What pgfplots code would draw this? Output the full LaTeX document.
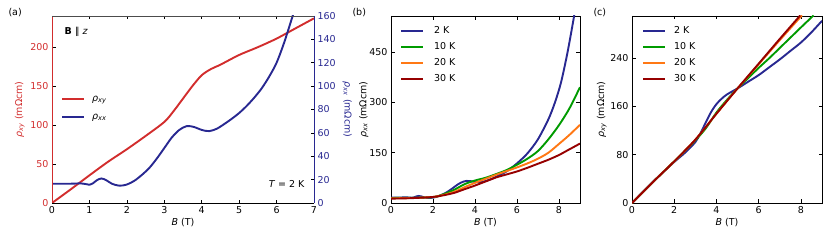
\documentclass[border=0pt]{standalone}
\usepackage{pgfplots}
\pgfplotsset{compat=1.18}
\usepackage{fontspec}
\setmainfont{DejaVu Sans}
\definecolor{cred}{RGB}{210,45,45}
\definecolor{cblue}{RGB}{40,40,145}
\definecolor{cgreen}{RGB}{0,155,0}
\definecolor{corange}{RGB}{255,120,20}
\definecolor{cdred}{RGB}{150,0,0}
\newcommand{\rxy}{\textit{ρ}\textsubscript{\textit{xy}}}
\newcommand{\rxx}{\textit{ρ}\textsubscript{\textit{xx}}}
\pgfplotsset{
  every axis/.append style={
    scale only axis,
    font=\fontsize{9.5}{11}\selectfont,
    tick align=inside,
    major tick length=3.5pt,
    tick style={line width=0.6pt, black},
    axis line style={line width=0.7pt},
    /pgf/number format/assume math mode=true,
    xlabel={\textit{B} (T)},
    xlabel style={yshift=2pt},
  },
  dat/.style={line width=1.9pt, smooth, no markers},
  leg/.style={legend style={draw=none, fill=none, inner sep=0pt, column sep=8pt, row sep=4pt,
     nodes={inner sep=0pt, text height=7pt, text depth=2pt, anchor=west},
     font=\fontsize{9.5}{11}\selectfont},
     legend cell align=left,
     legend image code/.code={\draw[##1] (0pt,0pt) -- (22pt,0pt);}},
}
\begin{document}
\begin{tikzpicture}
\path[use as bounding box] (0,0) rectangle (830pt,241pt);

% ---------------- panel (a) ----------------
\begin{axis}[name=A1, at={(52pt,38pt)}, anchor=south west, width=262pt, height=187pt,
  xmin=0, xmax=7, ymin=0, ymax=240,
  xtick={0,...,7}, ytick={0,50,100,150,200},
  xtick pos=both, xticklabel pos=bottom, ytick pos=left,
  yticklabel style={text=cred}, ylabel={\rxy{} (mΩcm)}, ylabel style={text=cred, yshift=-1pt},
  axis line style={draw=none}]
\addplot[dat, cred] coordinates {
(0,0) (0.5,17.5) (1,35.5) (1.5,53) (2,69) (2.5,86) (3,104) (3.25,118) (3.5,134) (3.75,150) (4,164) (4.25,172) (4.5,177.5) (5,190) (5.5,200) (6,211) (6.5,224) (7,237)};
\end{axis}
\begin{axis}[at={(52pt,38pt)}, anchor=south west, width=262pt, height=187pt,
  xmin=0, xmax=7, ymin=0, ymax=160,
  hide x axis, axis y line*=right, ytick={0,20,...,160},
  yticklabel style={text=cblue}, y axis line style={draw=none},
  ylabel={\rxx{} (mΩcm)}, ylabel style={text=cblue, rotate=180, yshift=0pt},
  leg, legend style={at={(rel axis cs:0,1)}, anchor=north west, xshift=9pt, yshift=-78pt, row sep=9pt, column sep=7pt}]
\addlegendimage{cred, line width=1.9pt}
\addlegendentry{\rxy}
\addplot[dat, cblue] coordinates {
(0,16.5) (0.5,16.5) (0.75,16.8) (0.9,16.2) (1.0,15.6) (1.1,17) (1.2,19.5) (1.32,21) (1.45,19.5) (1.6,16.5) (1.8,14.8) (2.0,15.8) (2.2,19) (2.4,24) (2.6,30) (2.8,38) (3.0,47) (3.2,56) (3.4,62.5) (3.6,65.8) (3.8,65) (4.0,62.5) (4.2,61.5) (4.4,63.5) (4.6,67.5) (4.8,72) (5.0,77) (5.2,83) (5.4,90) (5.6,98) (5.8,108) (6.0,120) (6.2,137) (6.4,157) (6.45,162)};
\addlegendentry{\rxx}
\node[anchor=west] at (rel axis cs:0,1) [xshift=9pt, yshift=-16pt] {\textbf{B} ∥ \textit{z}};
\node[anchor=east] at (rel axis cs:1,0) [xshift=-6pt, yshift=19pt] {\textit{T} = 2 K};
\end{axis}
\draw[cred, line width=0.7pt] (A1.south west) -- (A1.north west);
\draw[cblue, line width=0.7pt] (A1.south east) -- (A1.north east);
\draw[black!70, line width=0.7pt] (A1.north west) -- (A1.north east);
\draw[black, line width=0.7pt] (A1.south west) -- (A1.south east);

% ---------------- panel (b) ----------------
\begin{axis}[at={(391pt,38pt)}, anchor=south west, width=189pt, height=187pt,
  xmin=0, xmax=9, ymin=0, ymax=557,
  xtick={0,2,4,6,8}, ytick={0,150,300,450},
  xtick pos=both, xticklabel pos=bottom, ytick pos=both, yticklabel pos=left,
  ylabel={\rxx{} (mΩcm)}, ylabel style={yshift=-6pt},
  leg, legend style={at={(rel axis cs:0,1)}, anchor=north west, xshift=9pt, yshift=-10.5pt, row sep=7pt, column sep=10pt}]
\addplot[dat, cblue] coordinates {
(0,16.5) (0.5,16.5) (0.75,16.8) (0.9,16.2) (1.0,15.6) (1.1,17) (1.2,19.5) (1.32,21) (1.45,19.5) (1.6,16.5) (1.8,14.8) (2.0,15.8) (2.2,19) (2.4,24) (2.6,30) (2.8,38) (3.0,47) (3.2,56) (3.4,62.5) (3.6,65.8) (3.8,65) (4.0,62.5) (4.2,61.5) (4.4,63.5) (4.6,67.5) (4.8,72) (5.0,78) (5.5,94) (6.0,118) (6.5,148) (7.0,190) (7.5,250) (7.81,300) (8.1,360) (8.41,450) (8.72,557) (8.8,590)};
\addlegendentry{2 K}
\addplot[dat, cgreen] coordinates {
(0,15) (1,15.5) (2,17.5) (2.5,26) (3,39) (3.5,56) (4,67) (4.5,75) (5,86) (5.5,98) (6,114) (6.5,132) (7,155) (7.5,190) (8,232) (8.5,282) (9,345)};
\addlegendentry{10 K}
\addplot[dat, corange] coordinates {
(0,14) (1,15) (2,18) (2.5,24) (3,33) (3.5,47) (4,60) (4.5,72) (5,84) (5.5,95) (6,106) (6.5,118) (7,132) (7.5,150) (8,176) (8.5,203) (9,233)};
\addlegendentry{20 K}
\addplot[dat, cdred] coordinates {
(0,13) (1,14.5) (2,18) (2.5,23) (3,30) (3.5,41) (4,52) (4.5,64) (5,76) (5.5,85) (6,94) (6.5,105) (7,117) (7.5,129) (8,143) (8.5,160) (9,177)};
\addlegendentry{30 K}
\end{axis}

% ---------------- panel (c) ----------------
\begin{axis}[at={(632pt,38pt)}, anchor=south west, width=190pt, height=187pt,
  xmin=0, xmax=9, ymin=0, ymax=310,
  xtick={0,2,4,6,8}, ytick={0,80,160,240},
  xtick pos=both, xticklabel pos=bottom, ytick pos=both, yticklabel pos=left,
  ylabel={\rxy{} (mΩcm)}, ylabel style={yshift=-3pt},
  leg, legend style={at={(rel axis cs:0,1)}, anchor=north west, xshift=10pt, yshift=-10.5pt, row sep=7pt, column sep=8pt}]
\addplot[dat, cblue] coordinates {
(0,0) (1,35.5) (2,68) (2.5,83) (3,101) (3.25,116) (3.5,134) (3.75,151) (4,164) (4.25,173) (4.5,180) (5,190) (5.5,201) (6,212) (6.5,225) (7,238) (7.5,252) (8,266) (8.5,283) (9,302)};
\addlegendentry{2 K}
\addplot[dat, cgreen] coordinates {
(0,0) (1,35) (2,69) (3,104) (3.5,124) (4,150) (4.5,171) (5,190) (5.5,207) (6,224) (6.5,240) (7,257) (7.5,274) (8,291) (8.6,311)};
\addlegendentry{10 K}
\addplot[dat, corange] coordinates {
(0,0) (1,35) (2,69) (3,105) (4,148) (5,190) (6,230) (7,270) (8.05,311)};
\addlegendentry{20 K}
\addplot[dat, cdred] coordinates {
(0,0) (1,35) (2,69) (3,105) (4,148) (5,190) (6,231) (7,272) (7.97,311)};
\addlegendentry{30 K}
\end{axis}

\node[anchor=west] at (5pt,228pt) {\fontsize{9.5}{11}\selectfont (a)};
\node[anchor=west] at (349pt,228pt) {\fontsize{9.5}{11}\selectfont (b)};
\node[anchor=west] at (590pt,228pt) {\fontsize{9.5}{11}\selectfont (c)};
\end{tikzpicture}
\end{document}
